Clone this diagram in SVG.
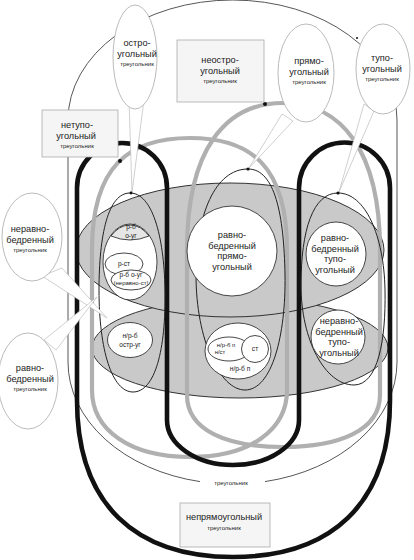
<svg xmlns="http://www.w3.org/2000/svg" width="414" height="560" viewBox="0 0 414 560">
<style>
text{font-family:"Liberation Sans",Arial,sans-serif;fill:#222;text-anchor:middle}
.big{font-size:9.2px}
.sm{font-size:6px}
.tiny{font-size:6.6px}
.thin{fill:none;stroke:#222;stroke-width:1}
.uni{fill:none;stroke:#444;stroke-width:0.9}
.gfill{fill:#c9c9c9;stroke:#333;stroke-width:1}
.wh{fill:#fff;stroke:#333;stroke-width:0.9}
.grayU{fill:none;stroke:#b0b0b0;stroke-width:4.2}
.thick{fill:none;stroke:#111;stroke-width:4.6}
.lab{fill:#fff;stroke:#aaa;stroke-width:0.8}
.box{fill:#f5f5f5;stroke:#aaa;stroke-width:0.8}
.tail{fill:#fff;stroke:#bbb;stroke-width:0.7}
.dot{fill:#111}
</style>
<rect width="414" height="560" fill="#fff"/>
<g id="universe">
<path class="uni" d="M200,481.6 A164.5,122 0 0 1 68,362 L68,120 A164.5,120 0 0 1 397,120 L397,362 A164.5,122 0 0 1 265,481.6"/>
<text class="sm" x="231" y="485">треугольник</text>
</g>
<g id="nonisosceles">
<ellipse class="gfill" cx="240" cy="348" rx="148" ry="50"/>
</g>
<g id="isosceles">
<ellipse class="gfill" cx="230" cy="250" rx="154" ry="67"/>
</g>
<g id="nonobtuse-line"><path class="grayU" d="M92,390 L92,250 C92,165 130,138 190,138 C250,138 287,165 287,250 L287,390 C287,430 250,457 190,457 C130,457 92,430 92,390 Z"/></g>
<g id="nonacute-line"><path class="grayU" d="M187,395 L187,250 C187,150 225,103 283,103 C341,103 380,150 380,250 L380,395 C380,430 340,447 283,447 C226,447 187,430 187,395 Z"/></g>
<g id="nonright-line"><path class="thick" d="M77,400 L77,188 A45,45 0 0 1 167,188 L167,420 A66,45 0 0 0 299,420 L299,188 A45.5,45.5 0 0 1 390,188 L390,400 C390,505 330,557 233,557 C136,557 77,505 77,400 Z"/></g>
<g id="acute-col">
<path class="thin" d="M130,193 C108,193 99,235 99,290 C99,350 112,392 133,392 C155,392 166,350 165,290 C164,235 152,193 130,193 Z"/>
<ellipse class="wh" cx="130" cy="262" rx="27" ry="38"/>
<path d="M111,236 Q130,244 149,236 A27,38 0 0 0 111,236 Z" fill="#e6e6e6" stroke="#333" stroke-width="0.9"/>
<text class="tiny" x="131" y="229">р-б</text>
<text class="tiny" x="131" y="237.5">о-уг</text>
<ellipse class="wh" cx="124" cy="264" rx="19" ry="11"/>
<text class="tiny" x="124" y="266">р-ст</text>
<ellipse class="wh" cx="131" cy="280" rx="20" ry="10"/>
<text class="tiny" x="131" y="277">р-б  о-уг</text>
<text class="sm" x="131" y="285">(неравно-ст)</text>
<ellipse class="wh" cx="130" cy="340" rx="22.5" ry="17.5"/>
<text class="tiny" x="130" y="338">н/р-б</text>
<text class="tiny" x="130" y="347">остр-уг</text>
</g>
<g id="right-col">
<path class="thin" d="M248,169 C215,169 196,215 196,275 C196,340 220,390 245,390 C272,390 286,335 285,275 C284,215 275,169 248,169 Z"/>
<circle class="wh" cx="232" cy="251" r="45"/>
<text class="big" x="232" y="238">равно-</text>
<text class="big" x="232" y="248.5">бедренный</text>
<text class="big" x="232" y="259">прямо-</text>
<text class="big" x="232" y="269.5">угольный</text>
<ellipse class="wh" cx="238" cy="351" rx="33" ry="28"/>
<ellipse class="wh" cx="229" cy="349" rx="21" ry="12"/>
<circle class="wh" cx="255" cy="349" r="13.5"/>
<text class="sm" x="226" y="346.5">н/р-б п</text>
<text class="sm" x="220" y="354">н/ст</text>
<text class="tiny" x="255" y="351">ст</text>
<text class="tiny" x="240" y="371">н/р-б п</text>
</g>
<g id="obtuse-col">
<path class="thin" d="M338,193 C313,193 301,230 301,285 C301,340 325,385 354,385 C378,385 386,340 385,290 C384,235 365,193 338,193 Z"/>
<ellipse class="wh" cx="336" cy="254" rx="30" ry="32"/>
<text class="big" x="335" y="241">равно-</text>
<text class="big" x="335" y="251.5">бедренный</text>
<text class="big" x="335" y="262">тупо-</text>
<text class="big" x="335" y="272.5">угольный</text>
<circle class="wh" cx="338" cy="337" r="27"/>
<text class="big" x="339" y="324">неравно-</text>
<text class="big" x="339" y="334.5">бедренный</text>
<text class="big" x="339" y="345">тупо-</text>
<text class="big" x="339" y="355.5">угольный</text>
</g>
<g id="connectors">
<polygon class="tail" points="129,100 144,100 132,192"/>
<polygon class="tail" points="282,114 293,121 249,168"/>
<polygon class="tail" points="364,104 374,111 339,192"/>
<polygon class="tail" points="42,276 62,268 107,318"/>
<polygon class="tail" points="44,340 56,350 97,297"/>
<circle class="dot" cx="120" cy="161" r="2"/>
<circle class="dot" cx="265" cy="104" r="2"/>
<circle class="dot" cx="248" cy="169" r="1.6"/>
<circle class="dot" cx="338" cy="193" r="1.6"/>
<circle class="dot" cx="131" cy="193" r="1.4"/>
<circle class="dot" cx="357" cy="38" r="1"/>
</g>
<g id="label-acute">
<ellipse class="lab" cx="135" cy="57" rx="22" ry="52"/>
<text class="big" x="137" y="46">остро-</text>
<text class="big" x="137" y="56.5">угольный</text>
<text class="sm" x="137" y="65.5">треугольник</text>
</g>
<g id="label-right">
<ellipse class="lab" cx="306" cy="73" rx="28" ry="49"/>
<text class="big" x="309" y="64">прямо-</text>
<text class="big" x="309" y="74.5">угольный</text>
<text class="sm" x="309" y="83.5">треугольник</text>
</g>
<g id="label-obtuse">
<ellipse class="lab" cx="383" cy="69" rx="27" ry="45"/>
<text class="big" x="382" y="61">тупо-</text>
<text class="big" x="382" y="71.5">угольный</text>
<text class="sm" x="382" y="80.5">треугольник</text>
</g>
<g id="label-nonisosceles">
<ellipse class="lab" cx="32" cy="237" rx="30" ry="44"/>
<text class="big" x="30" y="232">неравно-</text>
<text class="big" x="30" y="242.5">бедренный</text>
<text class="sm" x="30" y="251.5">треугольник</text>
</g>
<g id="label-isosceles">
<ellipse class="lab" cx="28" cy="381" rx="30" ry="48"/>
<text class="big" x="30" y="371">равно-</text>
<text class="big" x="30" y="381.5">бедренный</text>
<text class="sm" x="30" y="390.5">треугольник</text>
</g>
<g id="box-nonobtuse">
<rect class="box" x="42" y="110" width="76" height="47"/>
<text class="big" x="77" y="128">нетупо-</text>
<text class="big" x="76" y="138.5">угольный</text>
<text class="sm" x="77" y="147.5">треугольник</text>
</g>
<g id="box-nonacute">
<rect class="box" x="177" y="40" width="87" height="62"/>
<text class="big" x="220" y="63">неостро-</text>
<text class="big" x="220" y="73.5">угольный</text>
<text class="sm" x="220" y="82.5">треугольник</text>
</g>
<g id="box-nonright">
<rect class="box" x="180" y="503" width="90" height="44"/>
<text class="big" x="224" y="520">непрямоугольный</text>
<text class="sm" x="224" y="529.5">треугольник</text>
</g>
</svg>
